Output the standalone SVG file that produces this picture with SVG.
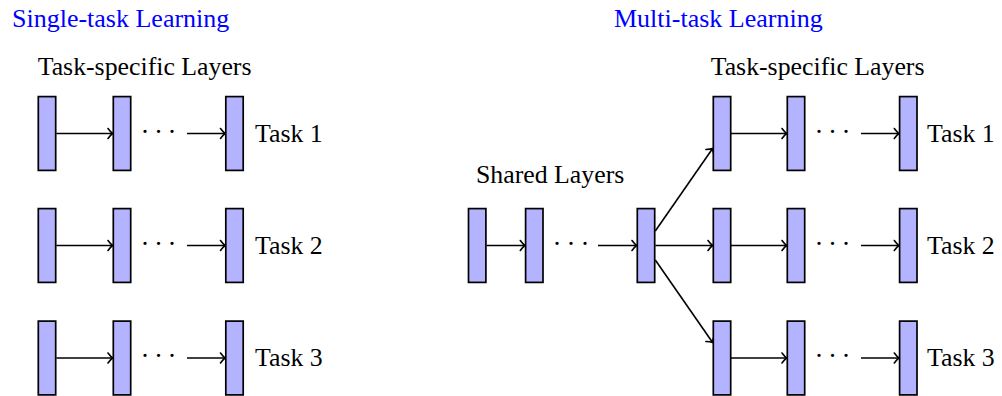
<svg xmlns="http://www.w3.org/2000/svg" width="1002" height="396" viewBox="0 0 1002 396">
<style>
.layer{fill:#b3b3ff;stroke:#000;stroke-width:1.7}
.lbl{font-family:"Liberation Serif","Times New Roman",serif;font-size:25.8px;fill:#000}
.title{font-family:"Liberation Serif","Times New Roman",serif;font-size:26px;fill:#0000ff}
.dots{font-family:"Liberation Serif","Times New Roman",serif;font-size:27px;fill:#000;text-anchor:middle}
.edge{stroke:#000;stroke-width:1.6;fill:none;marker-end:url(#to)}
</style>
<defs>
<marker id="to" markerUnits="userSpaceOnUse" markerWidth="12" markerHeight="12" viewBox="-6 -6 12 12" refX="0" refY="0" orient="auto" overflow="visible">
<path d="M-4.6,-5 Q-1.8,-1.3 0,0 Q-1.8,1.3 -4.6,5" fill="none" stroke="#000" stroke-width="1.6" stroke-linecap="round"/>
</marker>
</defs>
<rect width="1002" height="396" fill="#fff"/>
<g id="titles">
<text class="title" x="12" y="27">Single-task Learning</text>
<text class="title" x="614" y="27">Multi-task Learning</text>
<text class="lbl" x="37.7" y="75">Task-specific Layers</text>
<text class="lbl" x="710.7" y="75">Task-specific Layers</text>
<text class="lbl" x="476" y="183">Shared Layers</text>
</g>
<g id="connectors">
<line class="edge" x1="56.3" y1="133.5" x2="112.6" y2="133.5"/>
<line class="edge" x1="187" y1="133.5" x2="225.1" y2="133.5"/>
<line class="edge" x1="56.3" y1="245.5" x2="112.6" y2="245.5"/>
<line class="edge" x1="187" y1="245.5" x2="225.1" y2="245.5"/>
<line class="edge" x1="56.3" y1="358" x2="112.6" y2="358"/>
<line class="edge" x1="187" y1="358" x2="225.1" y2="358"/>
<line class="edge" x1="486.5" y1="245.5" x2="524.9" y2="245.5"/>
<line class="edge" x1="598" y1="245.5" x2="636.6" y2="245.5"/>
<line class="edge" x1="655.3" y1="231" x2="712.6" y2="148.5"/>
<line class="edge" x1="655.3" y1="245.5" x2="712.6" y2="245.5"/>
<line class="edge" x1="655.3" y1="260" x2="712.6" y2="342.5"/>
<line class="edge" x1="730.7" y1="133.5" x2="786.6" y2="133.5"/>
<line class="edge" x1="861" y1="133.5" x2="898.9" y2="133.5"/>
<line class="edge" x1="730.7" y1="245.5" x2="786.6" y2="245.5"/>
<line class="edge" x1="861" y1="245.5" x2="898.9" y2="245.5"/>
<line class="edge" x1="730.7" y1="358" x2="786.6" y2="358"/>
<line class="edge" x1="861" y1="358" x2="898.9" y2="358"/>
</g>
<g id="single-row1">
<rect class="layer" x="38.3" y="96.6" width="17.4" height="73.8"/>
<rect class="layer" x="113.3" y="96.6" width="17.4" height="73.8"/>
<rect class="layer" x="225.8" y="96.6" width="17.4" height="73.8"/>
<text class="dots" x="145 158.5 172" y="140.5">···</text>
<text class="lbl" x="255" y="141.5">Task 1</text>
</g>
<g id="single-row2">
<rect class="layer" x="38.3" y="208.6" width="17.4" height="73.8"/>
<rect class="layer" x="113.3" y="208.6" width="17.4" height="73.8"/>
<rect class="layer" x="225.8" y="208.6" width="17.4" height="73.8"/>
<text class="dots" x="145 158.5 172" y="252.5">···</text>
<text class="lbl" x="255" y="253.5">Task 2</text>
</g>
<g id="single-row3">
<rect class="layer" x="38.3" y="321.1" width="17.4" height="73.8"/>
<rect class="layer" x="113.3" y="321.1" width="17.4" height="73.8"/>
<rect class="layer" x="225.8" y="321.1" width="17.4" height="73.8"/>
<text class="dots" x="145 158.5 172" y="365">···</text>
<text class="lbl" x="255" y="366">Task 3</text>
</g>
<g id="shared">
<rect class="layer" x="468.5" y="208.6" width="17.4" height="73.8"/>
<rect class="layer" x="525.6" y="208.6" width="17.4" height="73.8"/>
<rect class="layer" x="637.3" y="208.6" width="17.4" height="73.8"/>
<text class="dots" x="557 571 585" y="252.5">···</text>
</g>
<g id="multi-row1">
<rect class="layer" x="713.3" y="96.6" width="17.4" height="73.8"/>
<rect class="layer" x="787.3" y="96.6" width="17.4" height="73.8"/>
<rect class="layer" x="899.6" y="96.6" width="17.4" height="73.8"/>
<text class="dots" x="819 832.5 846" y="140.5">···</text>
<text class="lbl" x="927" y="141.5">Task 1</text>
</g>
<g id="multi-row2">
<rect class="layer" x="713.3" y="208.6" width="17.4" height="73.8"/>
<rect class="layer" x="787.3" y="208.6" width="17.4" height="73.8"/>
<rect class="layer" x="899.6" y="208.6" width="17.4" height="73.8"/>
<text class="dots" x="819 832.5 846" y="252.5">···</text>
<text class="lbl" x="927" y="253.5">Task 2</text>
</g>
<g id="multi-row3">
<rect class="layer" x="713.3" y="321.1" width="17.4" height="73.8"/>
<rect class="layer" x="787.3" y="321.1" width="17.4" height="73.8"/>
<rect class="layer" x="899.6" y="321.1" width="17.4" height="73.8"/>
<text class="dots" x="819 832.5 846" y="365">···</text>
<text class="lbl" x="927" y="366">Task 3</text>
</g>
</svg>
